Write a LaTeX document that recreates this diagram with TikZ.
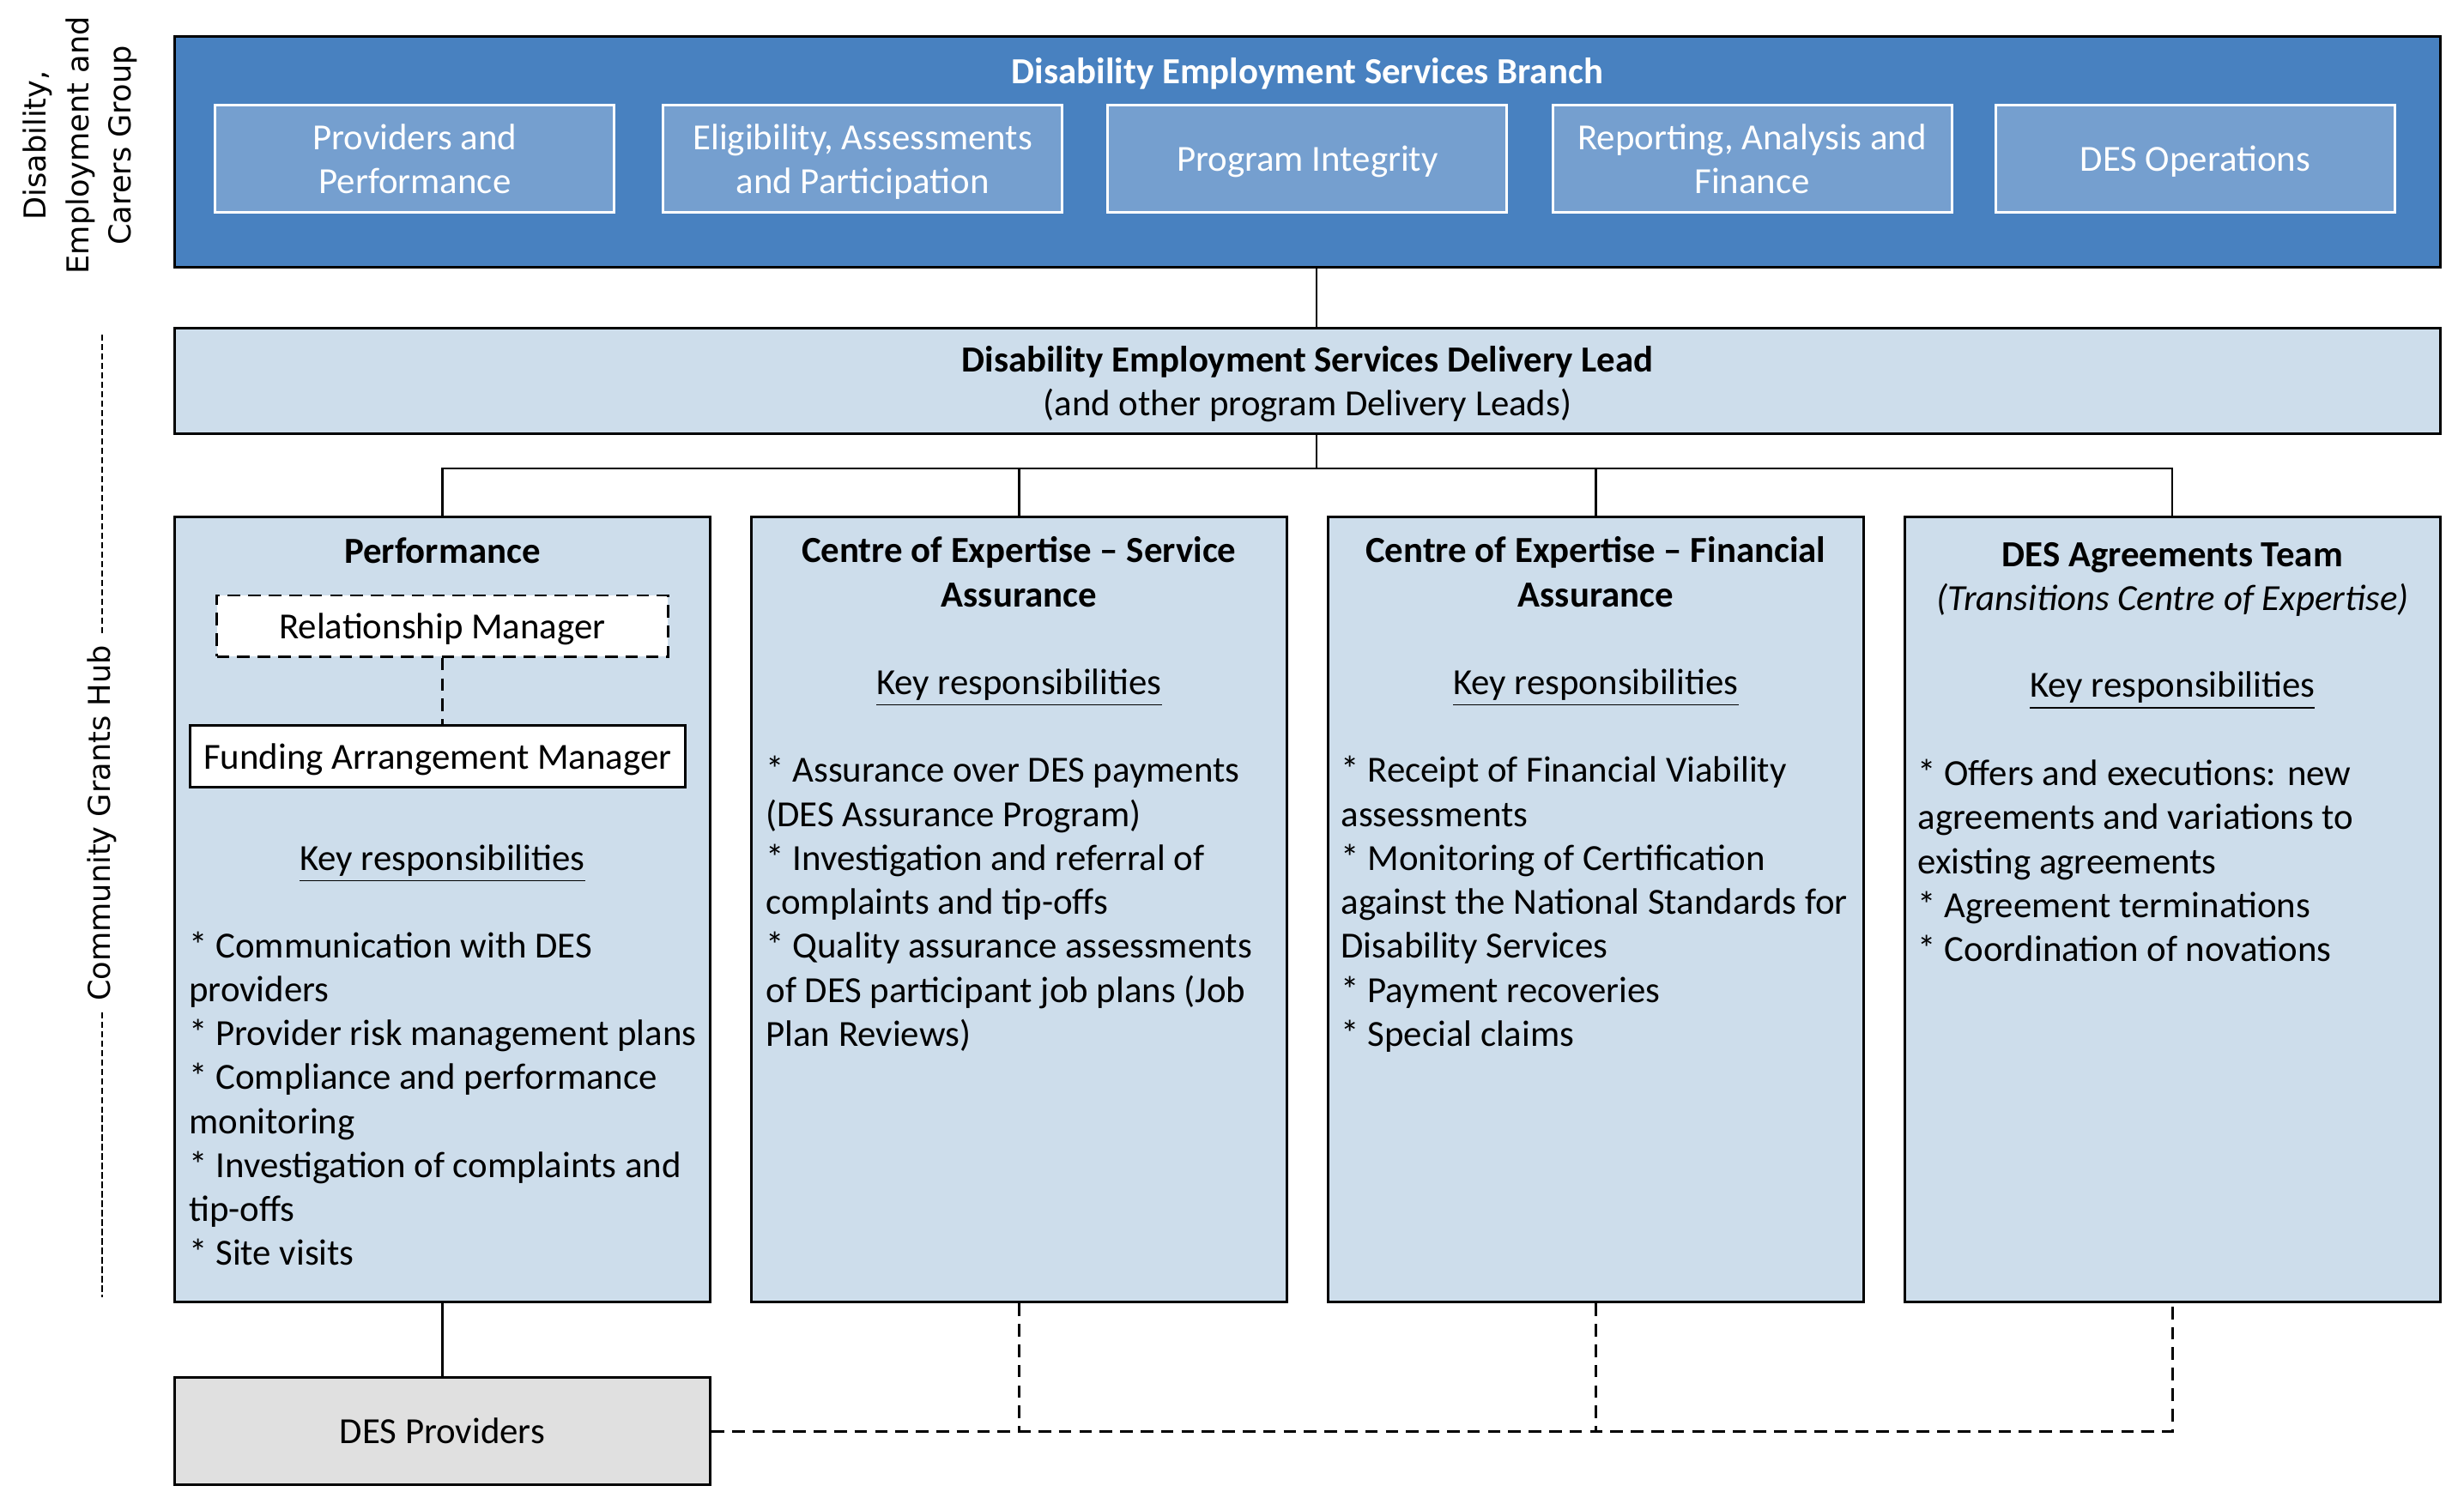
\documentclass[tikz,border=0pt]{standalone}
\usepackage{fontspec}
\setmainfont{Carlito}
\newfontfamily\groupfont{DejaVu Sans}
\definecolor{branchblue}{RGB}{72,129,192}
\definecolor{unitblue}{RGB}{117,159,207}
\definecolor{paleblue}{RGB}{205,221,235}
\definecolor{provgray}{RGB}{224,224,224}
\newcommand{\boxfont}{\fontsize{11.7}{14}\selectfont}
\tikzset{
    textline/.style={text height=10.5pt, text depth=2.5pt},
    branchbox/.style={draw, line width=0.8pt, fill=branchblue, minimum width=721pt, minimum height=73.5pt, inner sep=0pt},
    unitbox/.style={draw=white, line width=0.8pt, fill=unitblue, text=white, align=center, minimum width=127pt, minimum height=34pt, inner sep=0pt},
    leadbox/.style={draw, line width=0.8pt, fill=paleblue, align=center, minimum width=721pt, minimum height=33.5pt, inner sep=0pt},
    teambox/.style={draw, line width=0.8pt, fill=paleblue, minimum width=170.5pt, minimum height=250pt, inner sep=0pt},
    rmbox/.style={draw, textline, line width=0.8pt, dash pattern=on 4pt off 2.5pt, fill=white, minimum width=143.5pt, minimum height=19.5pt, inner sep=0pt},
    fambox/.style={draw, textline, line width=0.8pt, fill=white, minimum width=157.5pt, minimum height=19.5pt, inner sep=0pt},
    provbox/.style={draw, textline, line width=0.8pt, fill=provgray, minimum width=170.5pt, minimum height=34pt, inner sep=0pt},
    teamtitle/.style={font=\boxfont\bfseries, align=center},
    duties/.style={anchor=north west, align=left, inner sep=0pt},
    link/.style={line width=0.6pt},
    dashlink/.style={line width=0.8pt, dash pattern=on 4pt off 2.5pt},
    hubdash/.style={line width=0.5pt, dash pattern=on 2pt off 1pt}
}
\begin{document}
\begin{tikzpicture}[x=0.5pt, y=-0.5pt, font=\boxfont]
        \useasboundingbox (0,0) rectangle (1568,960.7);
        \node[rotate=90, align=center, font=\groupfont\fontsize{9.6}{13.5}\selectfont] (group) at (51,92.5) {Disability,\\Employment and\\Carers Group};
        \node[rotate=90, font=\groupfont\fontsize{9.6}{12}\selectfont] (hub) at (65,524) {Community Grants Hub};
        \coordinate (hubtop) at (65,213);
        \coordinate (hubbot) at (65,826);
        \draw[hubdash] (hubtop) -- (hub.east);
        \draw[hubdash] (hub.west) -- (hubbot);

        \node[branchbox] (branch) at (832,96.5) {};
        \node[textline, text=white, font=\boxfont\bfseries] (branchtitle) at (832,45) {Disability Employment Services Branch};
        \node[unitbox] (provperf) at (264,101) {Providers and\\Performance};
        \node[unitbox] (elig) at (549,101) {};
        \node[text=white, align=center] (eligtext) at (549,103) {Eligibility, Assessments\\and Participation};
        \node[unitbox, textline] (integrity) at (832,101) {Program Integrity};
        \node[unitbox] (reporting) at (1115,101) {Reporting, Analysis and\\Finance};
        \node[unitbox, textline] (operations) at (1397,101) {DES Operations};

        \node[leadbox] (lead) at (832,242.5) {};
        \node[align=center] (leadtext) at (832,244.5) {\textbf{Disability Employment Services Delivery Lead}\\(and other program Delivery Leads)};
        \coordinate (split) at (838,298);
        \draw[link] (branch.south -| split) -- (lead.north -| split);
        \draw[link] (lead.south -| split) -- (split);

        \node[teambox] (perf) at (281.5,579) {};
        \node[teambox] (serv) at (648.5,579) {};
        \node[teambox] (fin) at (1015.5,579) {};
        \node[teambox] (agree) at (1382.5,579) {};
        \draw[link] (perf.north) |- (split) -| (agree.north);
        \draw[link] (serv.north) -- (serv.north |- split);
        \draw[link] (fin.north) -- (fin.north |- split);

        \node[teamtitle] (perftitle) at (281.5,350.5) {Performance};
        \node[rmbox] (rm) at (281.5,398.5) {Relationship Manager};
        \node[fambox] (fam) at (278.5,481.5) {Funding Arrangement Manager};
        \draw[dashlink] (rm.south -| perftitle) -- (fam.north -| perftitle);
        \node[textline] (perfkey) at (281.5,546) {\underline{Key responsibilities}};
        \node[duties] (perfduties) at (120,592.5) {* Communication with DES\\providers\\* Provider risk management plans\\* Compliance and performance\\monitoring\\* Investigation of complaints and\\tip-offs\\* Site visits};

        \node[teamtitle] (servtitle) at (648.5,364) {Centre of Expertise -- Service\\Assurance};
        \node[textline] (servkey) at (648.5,434) {\underline{Key responsibilities}};
        \node[duties] (servduties) at (487,481) {* Assurance over DES payments\\(DES Assurance Program)\\* Investigation and referral of\\complaints and tip-offs\\* Quality assurance assessments\\of DES participant job plans (Job\\Plan Reviews)};

        \node[teamtitle] (fintitle) at (1015.5,364) {Centre of Expertise -- Financial\\Assurance};
        \node[textline] (finkey) at (1015.5,434) {\underline{Key responsibilities}};
        \node[duties] (finduties) at (853,481) {* Receipt of Financial Viability\\assessments\\* Monitoring of Certification\\against the National Standards for\\Disability Services\\* Payment recoveries\\* Special claims};

        \node[align=center] (agreetitle) at (1382.5,369) {\textbf{DES Agreements Team}\\\textit{(Transitions Centre of Expertise)}};
        \node[textline] (agreekey) at (1382.5,436) {\underline{Key responsibilities}};
        \node[duties] (agreeduties) at (1220,483) {* Offers and executions: new\\agreements and variations to\\existing agreements\\* Agreement terminations\\* Coordination of novations};

        \node[provbox] (prov) at (281.5,911) {DES Providers};
        \draw[link] (perf.south) -- (prov.north);
        \draw[dashlink] (prov.east) -| (agree.south);
        \draw[dashlink] (serv.south) -- (serv.south |- prov.east);
        \draw[dashlink] (fin.south) -- (fin.south |- prov.east);
    \end{tikzpicture}
\end{document}
